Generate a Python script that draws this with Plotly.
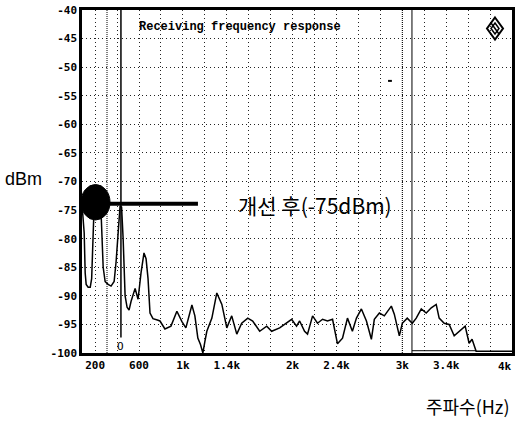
import plotly.graph_objects as go

# ---------------- data ----------------
freq_hz = [80, 100, 109, 118, 136, 155, 168, 182, 191, 209, 236, 255, 273, 291, 318, 345,
           373, 391, 409, 427, 441, 455, 473, 491, 509, 527, 564, 591, 618, 645, 664, 682,
           700, 727, 760, 791, 836, 891, 945, 991, 1027, 1082, 1109, 1136, 1160, 1182, 1200,
           1218, 1264, 1309, 1355, 1400, 1445, 1491, 1536, 1591, 1636, 1700, 1764, 1809,
           1882, 1945, 1991, 2036, 2064, 2109, 2136, 2182, 2227, 2273, 2318, 2364, 2409,
           2455, 2500, 2545, 2582, 2627, 2673, 2718, 2745, 2791, 2836, 2900, 2927, 2973,
           3000, 3045, 3091, 3127, 3173, 3218, 3264, 3309, 3336, 3382, 3427, 3473, 3518,
           3573, 3609, 3636, 3673, 4000]
level_dbm = [-74, -79, -86, -88, -88.5, -88.5, -87, -80, -74, -72, -72, -76, -85, -87.5, -88,
             -88.3, -87.5, -84, -78, -74.3, -74.5, -80, -90, -92, -92.5, -91, -88.7, -90.6,
             -86, -82.5, -83.5, -87, -93, -94, -94.2, -94.4, -95.8, -95.3, -92.7, -94.5,
             -95.6, -91.6, -93.5, -97.4, -98.5, -100, -98, -96.2, -93.9, -89.5, -91.5, -95.6,
             -93.5, -96.7, -94.8, -93.9, -94.4, -96.2, -95.3, -96.2, -95.6, -94.8, -94.1,
             -95.3, -94.4, -96.2, -96.7, -93.5, -94.8, -94.1, -94.4, -94.1, -98.4, -97.4,
             -93.9, -96.2, -93.9, -92.3, -94.4, -97.6, -94.1, -93.0, -93.5, -91.8, -93.2,
             -97, -94.8, -93.9, -94.8, -93.9, -92.3, -93, -92.1, -91.5, -93.9, -94.8, -95,
             -97, -96.2, -95.3, -98.3, -97.6, -99.7, -99.7]

x_tickvals = [200, 600, 1000, 1400, 2000, 2400, 3000, 3400, 4000]
x_ticktext = ["200", "600", "1k", "1.4k", "2k", "2.4k", "3k", "3.4k", ""]
last_x_label = "4k"
y_tickvals = [-100, -95, -90, -85, -80, -75, -70, -65, -60, -55, -50, -45, -40]
y_ticktext = [str(v) for v in y_tickvals]

marker_freq = 435        # solid marker line
marker_level = -73.9     # annotated level line
aux_dotted_freqs = [308, 3000]
aux_solid_freq = 3088

title_text = "Receiving frequency response"
note_text = "개선 후(-75dBm)"
y_label = "dBm"
x_label = "주파수(Hz)"

# ---------------- layout geometry ----------------
W, H = 515, 421
ML, MR, MT, MB = 82, 3, 10, 68
PW, PH = W - ML - MR, H - MT - MB


def px(xp):
    return (xp - ML) / PW


def py(yp):
    return (H - MB - yp) / PH


GRID = dict(showgrid=True, gridcolor="#222", griddash="1px,3px", gridwidth=1)
TICKFONT = dict(family="DejaVu Sans Mono", size=11, color="black", weight="bold")

fig = go.Figure()
fig.add_trace(go.Scatter(x=freq_hz, y=level_dbm, mode="lines",
                         line=dict(color="black", width=1.5), hoverinfo="skip",
                         showlegend=False))

shapes = []
for f in aux_dotted_freqs:
    shapes.append(dict(type="line", xref="x", yref="y", x0=f, x1=f, y0=-100, y1=-40,
                       line=dict(color="black", width=1, dash="1px,1px")))
shapes.append(dict(type="line", xref="x", yref="y", x0=aux_solid_freq, x1=aux_solid_freq,
                   y0=-100, y1=-40, line=dict(color="black", width=1)))
shapes.append(dict(type="line", xref="x", yref="y", x0=aux_solid_freq, x1=3673,
                   y0=-99.6, y1=-99.6, line=dict(color="black", width=1)))
shapes.append(dict(type="line", xref="x", yref="y", x0=marker_freq, x1=marker_freq,
                   y0=-97.3, y1=-40, line=dict(color="black", width=1.5)))
shapes.append(dict(type="line", xref="x", yref="y", x0=2870, x1=2905, y0=-52.4, y1=-52.4,
                   line=dict(color="black", width=2)))
shapes.append(dict(type="line", xref="x", yref="y", x0=317, x1=1137,
                   y0=marker_level, y1=marker_level, line=dict(color="black", width=4)))
shapes.append(dict(type="circle", xref="paper", yref="paper",
                   x0=px(81), x1=px(110), y0=py(220), y1=py(184.5),
                   fillcolor="black", line=dict(color="black", width=1), layer="above"))
cx, cy, hw, hh = px(495), py(28.5), 8 / PW, 11 / PH
shapes.append(dict(type="path", xref="paper", yref="paper",
                   path=f"M {cx},{cy+hh} L {cx+hw},{cy} L {cx},{cy-hh} L {cx-hw},{cy} Z",
                   line=dict(color="black", width=2)))
ihw, ihh = hw * 0.5, hh * 0.5
shapes.append(dict(type="path", xref="paper", yref="paper",
                   path=f"M {cx},{cy+ihh} L {cx+ihw},{cy} L {cx},{cy-ihh} L {cx-ihw},{cy} Z",
                   line=dict(color="black", width=1.5)))
shapes.append(dict(type="line", xref="paper", yref="paper",
                   x0=cx - ihw, x1=cx + ihw, y0=cy + ihh, y1=cy - ihh,
                   line=dict(color="black", width=1.5)))

annotations = [
    dict(text=f"<b>{title_text}</b>", xref="paper", yref="paper", x=px(240), y=py(18),
         showarrow=False, font=dict(family="Liberation Mono", size=12, color="black")),
    dict(text="O", xref="x", yref="y", x=marker_freq, y=-98.8, showarrow=False,
         font=dict(family="DejaVu Sans Mono", size=11, color="black")),
    dict(text=note_text, xref="paper", yref="paper", x=px(236), y=py(205),
         xanchor="left", yanchor="middle", showarrow=False,
         font=dict(family="Noto Sans CJK KR", size=21, color="black")),
    dict(text=y_label, xref="paper", yref="paper", x=px(24), y=py(179),
         xanchor="center", yanchor="middle", showarrow=False,
         font=dict(family="Liberation Sans", size=18, color="black")),
    dict(text=x_label, xref="paper", yref="paper", x=px(512), y=py(406),
         xanchor="right", yanchor="middle", showarrow=False,
         font=dict(family="Noto Sans CJK KR", size=18, color="black")),
    dict(text=last_x_label, xref="paper", yref="paper", x=px(514), y=py(366),
         xanchor="right", yanchor="middle", showarrow=False, font=TICKFONT),
]

fig.update_layout(
    width=W, height=H,
    margin=dict(l=ML, r=MR, t=MT, b=MB, autoexpand=False),
    paper_bgcolor="white", plot_bgcolor="white",
    shapes=shapes, annotations=annotations,
    xaxis=dict(range=[80, 4000], tickvals=x_tickvals, ticktext=x_ticktext, ticks="",
               tickfont=TICKFONT, showline=True, linecolor="black", linewidth=2.5,
               mirror=True, zeroline=False, automargin=False,
               minor=dict(tick0=0, dtick=200, **GRID), **GRID),
    yaxis=dict(range=[-100, -40], tickvals=y_tickvals, ticktext=y_ticktext, ticks="",
               tickfont=TICKFONT, showline=True, linecolor="black", linewidth=2.5,
               mirror=True, zeroline=False, automargin=False, **GRID),
)

fig.write_html("out.html", config={"displayModeBar": False},
               post_script="document.body.style.margin='0';document.body.style.overflow='hidden';")
